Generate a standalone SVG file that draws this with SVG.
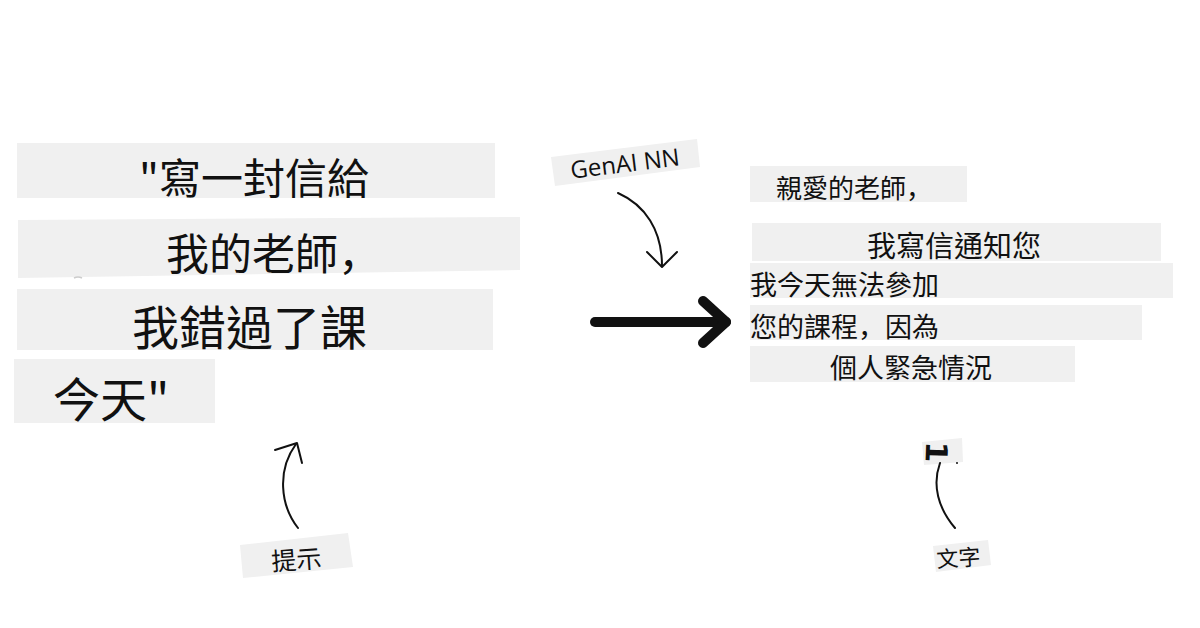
<svg xmlns="http://www.w3.org/2000/svg" width="1200" height="628" viewBox="0 0 1200 628">
<style>
.box{fill:#f0f0f0}
.cjk{font-family:"Noto Sans CJK TC","Noto Sans CJK SC",sans-serif;fill:#111}
.cm{font-family:"Noto Sans CJK SC","Noto Sans CJK JP",sans-serif}
.lat{font-family:"Open Sans","Noto Sans",sans-serif;fill:#111}
.conn{fill:none;stroke:#111;stroke-linecap:round;stroke-linejoin:round}
</style>
<rect width="1200" height="628" fill="#ffffff"/>
<g id="prompt-line1">
<rect class="box" x="17" y="143" width="478" height="55"/>
<text class="cjk" x="139" y="194" font-size="42">"寫一封信給</text>
</g>
<g id="prompt-line2">
<polygon class="box" points="18,220 520,217 520,270 18,278"/>
<text class="cjk" x="166" y="270" font-size="43">我的老師<tspan class="cm">，</tspan></text>
<path d="M74,278 q4,-2 8,0" fill="none" stroke="#cccccc" stroke-width="1.5"/>
</g>
<g id="prompt-line3">
<rect class="box" x="17" y="289" width="476" height="61"/>
<text class="cjk" x="132" y="345" font-size="47">我錯過了課</text>
</g>
<g id="prompt-line4">
<rect class="box" x="14" y="359" width="201" height="64"/>
<text class="cjk" x="53" y="417" font-size="47">今天"</text>
</g>
<g id="genai-label">
<polygon class="box" points="551,157 697,139 700,167 555,186"/>
<text class="lat" x="626" y="172" font-size="24" text-anchor="middle" transform="rotate(-7 626 172)">GenAI NN</text>
</g>
<g id="output-line1">
<rect class="box" x="750" y="166" width="217" height="36"/>
<text class="cjk" x="776" y="198" font-size="26">親愛的老師<tspan class="cm">，</tspan></text>
</g>
<g id="output-line2">
<rect class="box" x="752" y="223" width="409" height="38"/>
<text class="cjk" x="867" y="257" font-size="29">我寫信通知您</text>
</g>
<g id="output-line3">
<rect class="box" x="750" y="263" width="423" height="35"/>
<text class="cjk" x="750" y="295" font-size="27">我今天無法參加</text>
</g>
<g id="output-line4">
<rect class="box" x="750" y="305" width="392" height="35"/>
<text class="cjk" x="750" y="337" font-size="27">您的課程<tspan class="cm">，</tspan>因為</text>
</g>
<g id="output-line5">
<rect class="box" x="750" y="346" width="325" height="36"/>
<text class="cjk" x="830" y="378" font-size="27">個人緊急情況</text>
</g>
<g id="prompt-label">
<polygon class="box" points="240,545 348,533 353,567 243,578"/>
<text class="cjk" x="297" y="569" font-size="25" text-anchor="middle" transform="rotate(-4 297 569)">提示</text>
</g>
<g id="text-label">
<polygon class="box" points="933,546 988,540 991,565 936,572"/>
<text class="cjk" x="959" y="566" font-size="22" text-anchor="middle" transform="rotate(-4 959 566)">文字</text>
</g>
<g id="text-arrowhead">
<polygon class="box" points="922,442 962,438 963,462 924,465"/>
<text x="0" y="0" font-family="DejaVu Sans, sans-serif" font-size="30" font-weight="bold" fill="#111" text-anchor="middle" transform="translate(936 452) rotate(92) translate(0 10)">1</text>
<circle cx="957" cy="463" r="1" fill="#111"/>
</g>
<g id="connectors">
<path class="conn" stroke-width="2" d="M618,193 C645,205 662,230 662,266"/>
<path class="conn" stroke-width="2" d="M647,252 L662,267 L677,252"/>
<path class="conn" stroke-width="10" d="M595,322 L726,322"/>
<path class="conn" stroke-width="10" d="M703,301 L726,322 L703,343"/>
<path class="conn" stroke-width="2" d="M298,528 C280,505 277,470 296,444"/>
<path class="conn" stroke-width="2" d="M275,450 L297,443 L302,463"/>
<path class="conn" stroke-width="2" d="M955,528 C938,508 932,485 940,463"/>
</g>
</svg>
